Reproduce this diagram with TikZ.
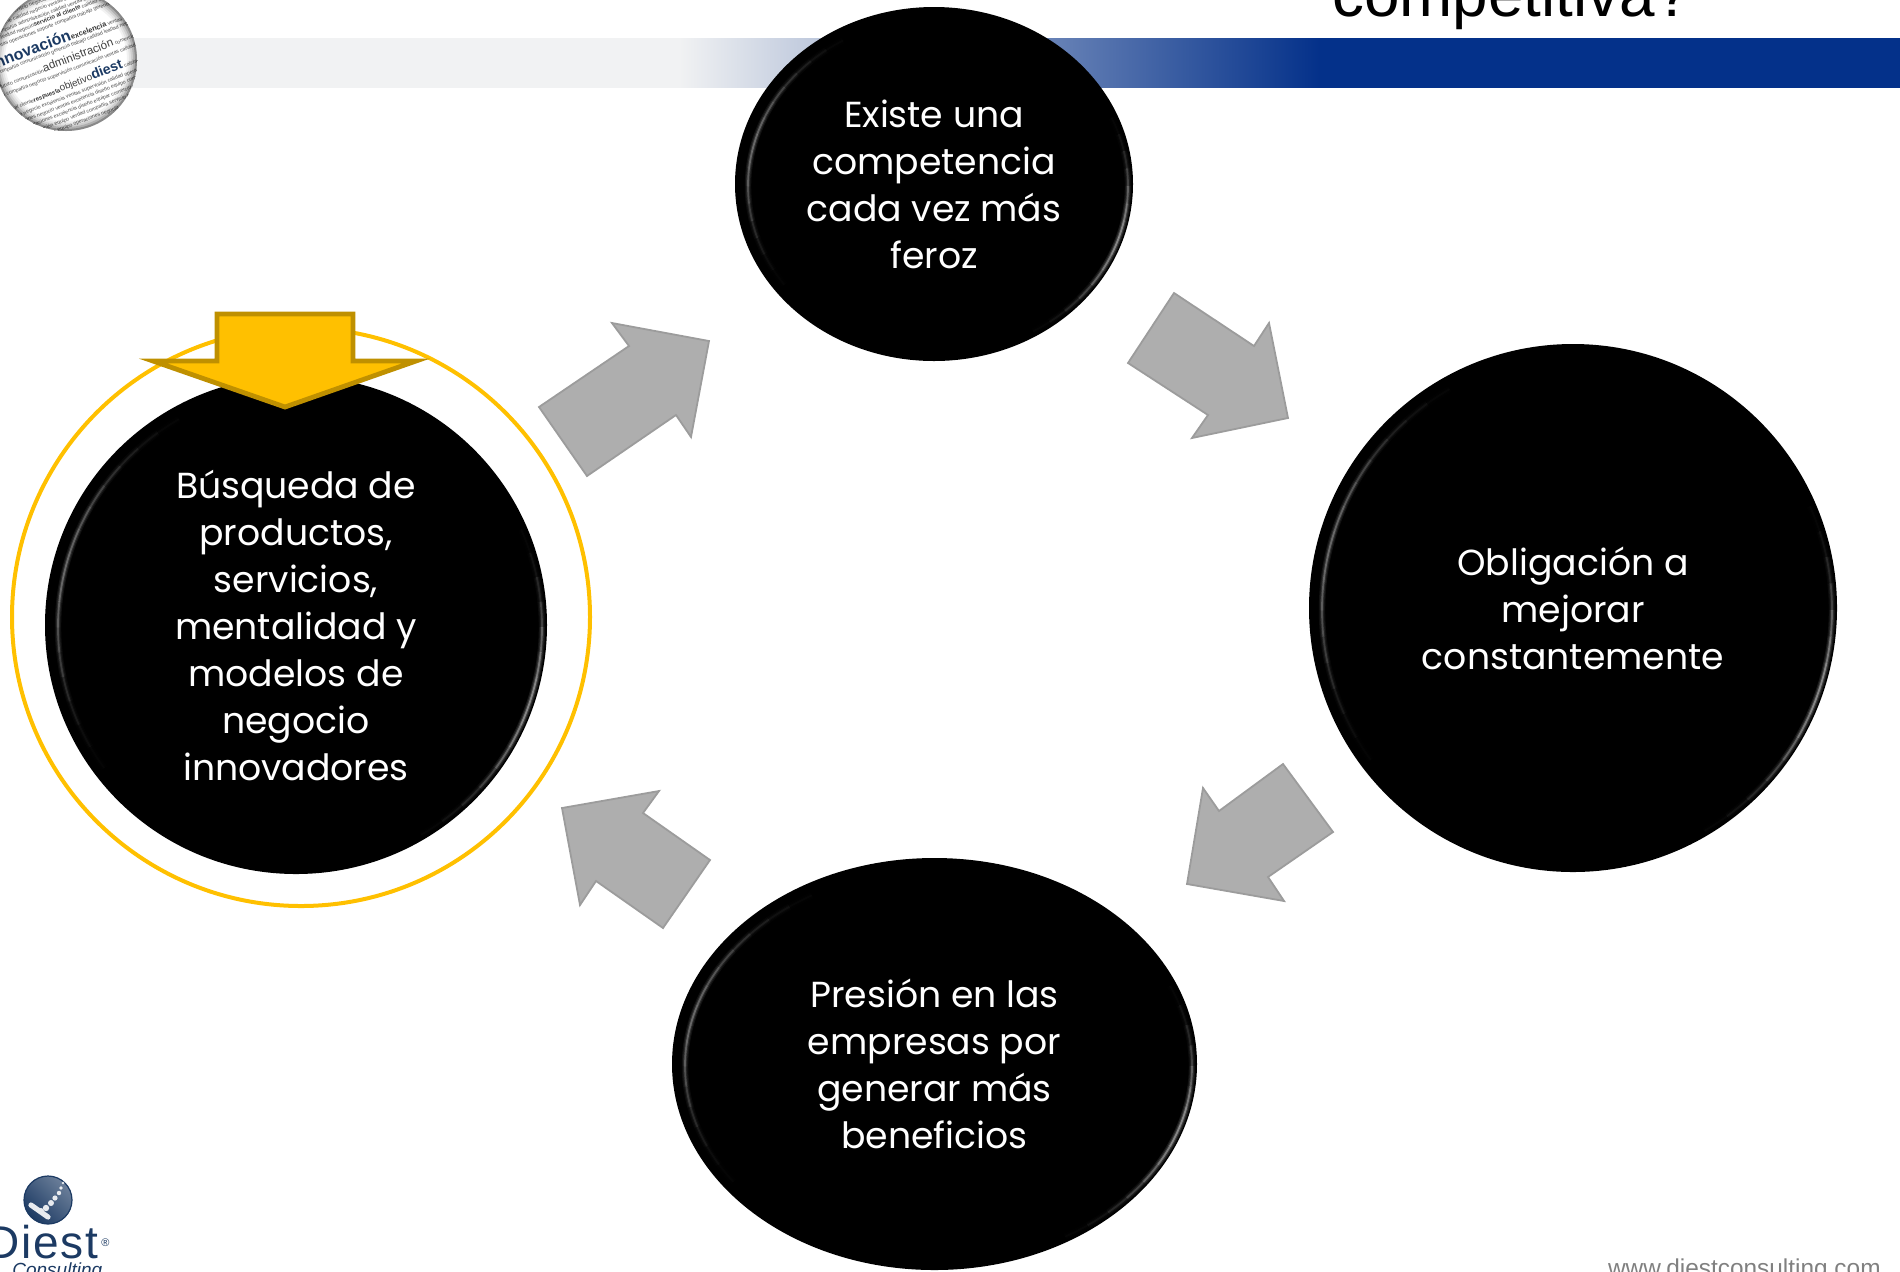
\documentclass[tikz,border=0pt]{standalone}
\usepackage{fontspec}
\setmainfont{Liberation Sans}
\newfontfamily\bubfont{Poppins}
\usetikzlibrary{shapes.geometric}
\definecolor{barblue}{HTML}{04318A}
\definecolor{barlight}{HTML}{F1F2F3}
\definecolor{ringgold}{HTML}{FFC000}
\definecolor{golddark}{HTML}{BF9000}
\definecolor{arrowgrey}{HTML}{AEAEAE}
\definecolor{arrowedge}{HTML}{9C9C9C}
\definecolor{logoblue}{HTML}{1C3A63}
\pgfdeclarehorizontalshading{barshade}{100bp}{color(0bp)=(barlight); color(40.5bp)=(barlight); color(58.6bp)=(barblue); color(100bp)=(barblue)}
\newcommand{\rimlight}[4]{%
  \foreach \a in {0,6,...,354}{%
    \pgfmathsetmacro\rb{0.55*pow(max(0,cos(\a-190)),8)+0.75*pow(max(0,cos(\a-15)),12)}%
    \pgfmathparse{\rb>0.02?1:0}%
    \ifnum\pgfmathresult=1
      \foreach \lw/\lo in {3.2/0.14,2/0.22,0.9/0.5}{%
        \draw[white,line width=\lw pt,opacity=\lo*\rb] ({#1+4+(#3-9)*cos(\a)},{#2+2+(#4-9)*sin(\a)}) arc[start angle=\a,delta angle=6,x radius=#3-9,y radius=#4-9];
      }%
    \fi
  }%
}
\newcommand{\kw}[2]{{\fontsize{#1}{#1}\selectfont\bfseries\color{logoblue}#2}}
\newcommand{\kg}[2]{{\fontsize{#1}{#1}\selectfont\color{black!75}#2}}
\newcommand{\kb}[2]{{\fontsize{#1}{#1}\selectfont\bfseries\color{black!80}#2}}
\tikzset{
  bubble/.style={ellipse,fill=black,text=white,inner sep=0pt,align=center,
    font=\bubfont\fontsize{18.1}{23.5}\selectfont},
  blockarrow/.style={fill=arrowgrey,draw=arrowedge,line width=0.9pt,line join=miter},
  goldarrow/.style={fill=ringgold,draw=golddark,line width=2.4pt,line join=miter,miter limit=20},
  globerow/.style={font=\fontsize{2.6}{2.6}\selectfont,text=black!70,rotate=21,inner sep=0pt,anchor=west}
}
\begin{document}
\begin{tikzpicture}[x=0.5pt,y=-0.5pt]
\useasboundingbox (0,0) rectangle (1900,1271);
% header bar
\shade[shading=barshade] (130,38) rectangle (1900,87);
% globe
\begin{scope}
  \clip (66,60) circle[radius=71];
  \fill[white] (66,60) circle[radius=71];
  \foreach \v/\t in {
    -64/{calidad soporte compañía servicio negocio calidad ventas},
    -57/{lealtad compañía soporte calidad negocio ventas operaciones servicio},
    -50/{negocio soporte compañía administración calidad ventas servicio},
    -44/{\makebox[38.5pt][r]{compañía calidad lealtad negocio}\kb{3}{servicio al cliente} calidad soporte compañía},
    -37/{lealtad futuro ventas operaciones soporte compañía trabajo gerencia calidad negocio},
    -22/{\makebox[11.5pt][r]{ }\kw{8}{innovación}\kb{3.7}{ excelencia} ventas operaciones},
    -12/{excelencia compañía comunicación gerencia trabajo calidad lealtad negocio soporte ventas},
    0/{\makebox[35pt][r]{lealtad futuro comunicación}\kg{5.8}{ administración} comercio trabajo},
    11/{producción compañía negocio supervisión comunicación ventas calidad lealtad soporte},
    24/{\makebox[25pt][r]{servicio al cliente}\kb{3}{respuesta}\kg{5}{ objetivo}\kw{7}{ diest} calidad},
    35/{lealtad servicio negocio excelencia ventas supervisión calidad operaciones comercio},
    42/{calidad operaciones negocio ventas excelencia diseño equipo comunicación servicio},
    49/{comunicación operaciones excelencia diseño equipar comercio negocio ventas},
    56/{supervisión comunicación equipo verdad compañía servicio calidad},
    63/{producción calidad ventas equipo operaciones negocio}}{
    \node[globerow] at ({66-95*0.934+\v*0.358},{60+95*0.358+\v*0.934}) {\t};
  }
  \foreach \w/\o in {20/0.05,16/0.06,12/0.09,8/0.14,4/0.22}{
    \draw[black,line width=\w*0.5pt,opacity=\o] (66,60) circle[radius=71];
  }
\end{scope}
% title fragment
\node[anchor=base west,inner sep=0pt,font=\fontsize{31.9}{31.9}\selectfont] (title) at (1332,16) {competitiva?};
% ring
\draw[ringgold,line width=2pt] (301,617) circle[radius=289];
% bubbles
\node[bubble,minimum width=199pt,minimum height=177pt] (top) at (934,184) {Existe una\\competencia\\cada vez más\\feroz};
\rimlight{934}{184}{199}{177}
\node[bubble,minimum width=264pt,minimum height=264pt] (right) at (1573,608) {Obligación a\\mejorar\\constantemente};
\rimlight{1573}{608}{264}{264}
\node[bubble,minimum width=262.5pt,minimum height=206pt] (bottom) at (934.5,1064) {Presión en las\\empresas por\\generar más\\beneficios};
\rimlight{934.5}{1064}{262.5}{206}
\node[bubble,minimum width=251pt,minimum height=249pt] (left) at (296,625) {Búsqueda de\\productos,\\servicios,\\mentalidad y\\modelos de\\negocio\\innovadores};
\rimlight{296}{625}{251}{249}
% grey block arrows
\draw[blockarrow] (539,407) -- (587,476) -- (676,415) -- (691,437) -- (709,341) -- (612,323) -- (629,346) -- cycle;
\draw[blockarrow] (1174,293) -- (1254,346) -- (1269,323) -- (1288,418) -- (1192,438) -- (1208,415) -- (1128,363) -- cycle;
\draw[blockarrow] (1283,764) -- (1333,832) -- (1268,877) -- (1284,901) -- (1187,884) -- (1203,788) -- (1219,811) -- cycle;
\draw[blockarrow] (710,860) -- (663,928) -- (596,881) -- (580,905) -- (562,808) -- (659,791) -- (643,813) -- cycle;
% gold arrow
\draw[goldarrow] (217,314) -- (353,314) -- (353,361) -- (416,361) -- (285,407) -- (153,361) -- (217,361) -- cycle;
% logo
\shade[left color=logoblue!65!white,right color=logoblue,shading angle=-45] (48,1200) circle[radius=24];
\draw[logoblue,line width=0.6pt] (48,1200) circle[radius=24];
\foreach \x/\y/\r in {63/1183/1.3,61/1188/1.8,59/1193/2.2,55/1198/2.6,51/1203/3,46/1208/3.2,41/1211/3}{
  \fill[white!90!logoblue] (\x,\y) circle[radius=\r];
}
\draw[white!90!logoblue,line width=2.6pt,line cap=round] (31,1205) -- (48,1217);
\node[anchor=base east,inner sep=0pt,text=logoblue,font=\fontsize{23}{23}\selectfont\addfontfeature{LetterSpace=4}] (diest) at (99,1258) {Diest};
\node[anchor=base west,inner sep=0pt,text=logoblue,font=\fontsize{5.5}{5.5}\selectfont] (reg) at (101,1246) {®};
\node[anchor=base west,inner sep=0pt,text=logoblue,font=\rmfamily\itshape\fontsize{9.5}{9.5}\selectfont] (consult) at (12,1276) {Consulting};
% url
\node[anchor=base east,inner sep=0pt,text=black!50,font=\fontsize{12.2}{12.2}\selectfont] (url) at (1881,1276) {www.diestconsulting.com};
\end{tikzpicture}
\end{document}
